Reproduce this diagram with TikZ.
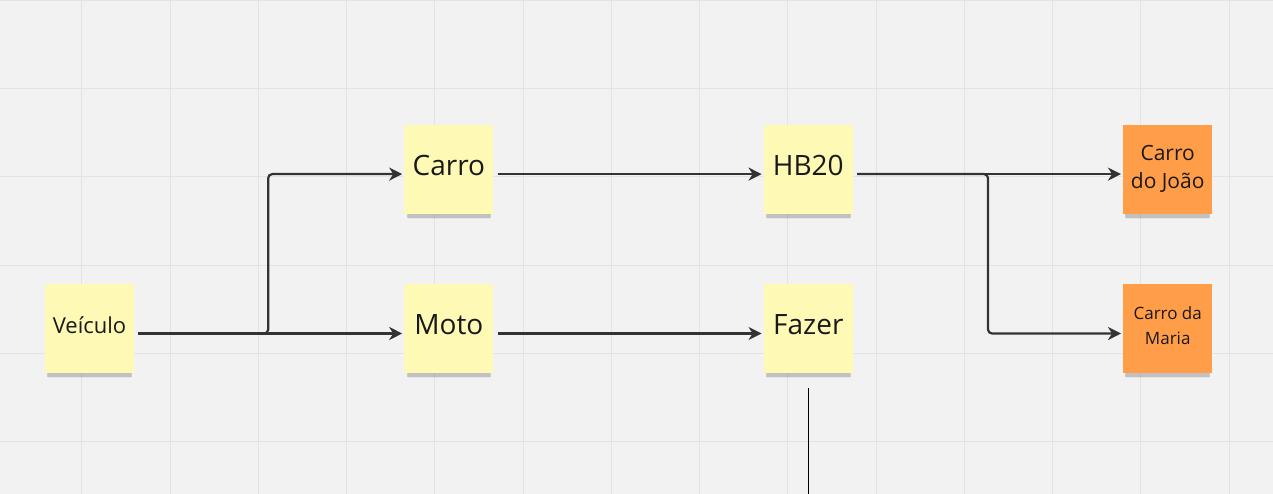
\documentclass[tikz,border=0pt]{standalone}
\usepackage{fontspec}
\setmainfont{Open Sans}
\usetikzlibrary{positioning,arrows.meta,shadows}

\definecolor{fundo}{HTML}{F2F2F2}
\definecolor{grade}{HTML}{E3E3E3}
\definecolor{amarelo}{HTML}{FEF9B4}
\definecolor{laranja}{HTML}{FF9D48}
\definecolor{seta}{HTML}{333333}

\tikzset{
  nota/.style={rectangle, minimum width=89pt, minimum height=89pt, inner sep=2pt,
    align=center, text=black!90, text depth=7pt,
    drop shadow={shadow xshift=0pt, shadow yshift=-9pt, opacity=.12, shadow scale=.93},
    drop shadow={shadow xshift=0pt, shadow yshift=-7pt, opacity=.35, shadow scale=.95}},
  notaamarela/.style={nota, fill=amarelo, font=\fontsize{28}{31}\selectfont},
  notalaranja/.style={nota, fill=laranja},
  conector/.style={draw=seta, line width=2.2pt, -{Stealth[length=13pt,width=13pt,inset=4pt]},
    rounded corners=4pt, shorten <=4pt, shorten >=2pt},
}

\begin{document}
\begin{tikzpicture}[x=1pt,y=1pt]
  % fundo e grade
  \fill[fundo] (0,0) rectangle (1273,-494);
  \useasboundingbox (0,0) rectangle (1273,-494);
  \draw[grade, line width=1pt, shift={(81.8,-0.5)}, step=88.25pt] (-81.8,-494) grid (1191.2,0.5);

  % notas
  \node[notaamarela, font=\fontsize{22}{25}\selectfont] (veiculo) at (89.5,-328.5) {Veículo};
  \node[notaamarela, right=270pt of veiculo] (moto) {Moto};
  \node[notaamarela, above=70pt of moto] (carro) {Carro};
  \node[notaamarela, right=270pt of carro] (hb20) {HB20};
  \node[notaamarela, right=270pt of moto] (fazer) {Fazer};
  \node[notalaranja, font=\fontsize{21}{28}\selectfont, text depth=5pt, right=270pt of hb20] (joao) {Carro\\do João};
  \node[notalaranja, font=\fontsize{17}{25}\selectfont, text depth=5pt, right=270pt of fazer] (maria) {Carro da\\Maria};

  % conectores
  \draw[conector] ([yshift=-5pt]veiculo.east) -- ++(134,0) |- ([yshift=-5pt]carro.west);
  \draw[conector] ([yshift=-5pt]veiculo.east) -- ([yshift=-5pt]moto.west);
  \draw[conector] ([yshift=-5pt]carro.east) -- ([yshift=-5pt]hb20.west);
  \draw[conector] ([yshift=-5pt]moto.east) -- ([yshift=-5pt]fazer.west);
  \draw[conector] ([yshift=-5pt]hb20.east) -- ([yshift=-5pt]joao.west);
  \draw[conector] ([yshift=-5pt]hb20.east) -- ++(135,0) |- ([yshift=-5pt]maria.west);

  \coordinate (baixo) at ([yshift=-121pt]fazer.south);
  \draw[black, line width=1.5pt] ([yshift=-15pt]fazer.south) -- (baixo);
\end{tikzpicture}
\end{document}
